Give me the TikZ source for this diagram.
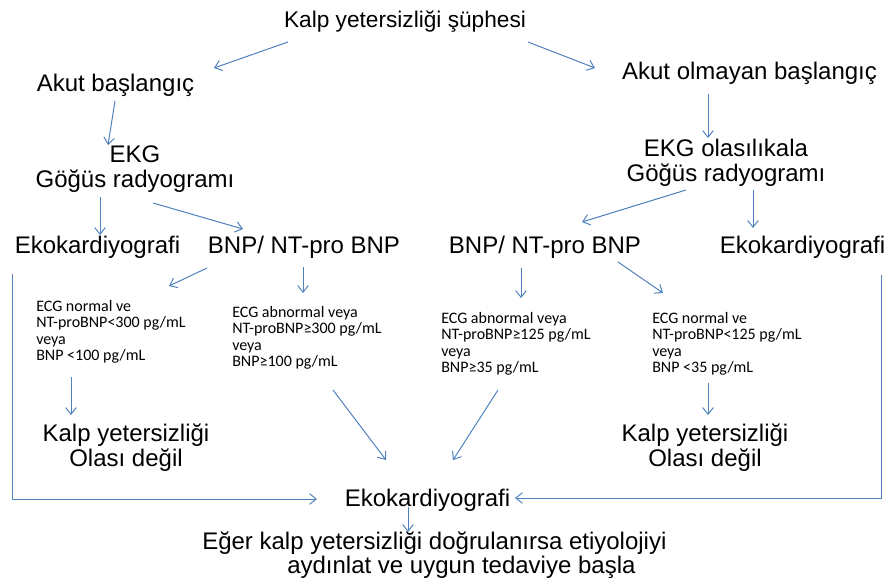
\documentclass[tikz,border=0pt]{standalone}
\usepackage{fontspec}
\setmainfont{Liberation Sans}
\newfontfamily\notefont{Carlito}
\usepackage{tikz}
\usetikzlibrary{arrows.meta}

\definecolor{flowblue}{RGB}{79,129,189}

\begin{document}
\begin{tikzpicture}[x=0.75pt,y=-0.75pt,
  lbl/.style={inner sep=0pt,anchor=base,align=center,font=\fontsize{18}{18.75}\selectfont},
  note/.style={inner sep=0pt,anchor=base west,align=left,font=\notefont\fontsize{12}{12.4}\selectfont},
  arr/.style={draw=flowblue,line width=0.75pt,-{Straight Barb[length=5pt,width=8pt]}}]

  \useasboundingbox (0,0) rectangle (889,581);

  % Top
  \node[lbl,font=\fontsize{17}{18}\selectfont] (root) at (405,28) {Kalp yetersizliği şüphesi};
  \node[lbl] (acute) at (115.5,92) {Akut başlangıç};
  \node[lbl] (nonacute) at (749.5,80) {Akut olmayan başlangıç};

  % Tests (base = last line)
  \node[lbl] (ekgL) at (135,188) {EKG\\Göğüs radyogramı};
  \node[lbl] (ekgR) at (726,182) {EKG olasılıkala\\Göğüs radyogramı};

  \node[lbl] (ekoL) at (97.5,253) {Ekokardiyografi};
  \node[lbl] (bnpL) at (304,253) {BNP/ NT-pro BNP};
  \node[lbl] (bnpR) at (545,253) {BNP/ NT-pro BNP};
  \node[lbl] (ekoR) at (802.5,253) {Ekokardiyografi};

  % Thresholds
  \node[note] (boxA) at (36,360.6) {ECG normal ve\\NT-proBNP<300 pg/mL\\veya\\BNP <100 pg/mL};
  \node[note] (boxB) at (232,366.6) {ECG abnormal veya\\NT-proBNP≥300 pg/mL\\veya\\BNP≥100 pg/mL};
  \node[note] (boxC) at (441,372.6) {ECG abnormal veya\\NT-proBNP≥125 pg/mL\\veya\\BNP≥35 pg/mL};
  \node[note] (boxD) at (652,372.6) {ECG normal ve\\NT-proBNP<125 pg/mL\\veya\\BNP <35 pg/mL};

  % Outcomes
  \node[lbl] (hfL) at (126,466) {Kalp yetersizliği\\Olası değil};
  \node[lbl] (hfR) at (705,466) {Kalp yetersizliği\\Olası değil};
  \node[lbl] (ekoB) at (427.5,506) {Ekokardiyografi};
  \node[lbl,anchor=base west,align=left,font=\fontsize{18}{18}\selectfont] (final) at (202,573)
    {Eğer kalp yetersizliği doğrulanırsa etiyolojiyi\\\hspace*{63.75pt}aydınlat ve uygun tedaviye başla};

  % Flows
  \draw[arr] ([shift={(-117,14)}]root.base) -- ([shift={(98.5,-24)}]acute.base);
  \draw[arr] ([shift={(123,14)}]root.base) -- ([shift={(-154.5,-12)}]nonacute.base);
  \draw[arr] ([shift={(-0.5,9)}]acute.base) -- ([shift={(-27,-43)}]ekgL.base);
  \draw[arr] ([shift={(-41.5,14)}]nonacute.base) -- ([shift={(-18,-44)}]ekgR.base);
  \draw[arr] ([shift={(-35,9)}]ekgL.base) -- ([shift={(2.5,-18)}]ekoL.base);
  \draw[arr] ([shift={(18,15)}]ekgL.base) -- ([shift={(-61,-24)}]bnpL.base);
  \draw[arr] ([shift={(-40,8)}]ekgR.base) -- ([shift={(37,-31)}]bnpR.base);
  \draw[arr] ([shift={(27,8)}]ekgR.base) -- ([shift={(-49.5,-25)}]ekoR.base);

  \draw[arr] ([shift={(-97,15)}]bnpL.base) -- ([shift={(133,-74.6)}]boxA.base west);
  \draw[arr] ([shift={(-1,14)}]bnpL.base) -- ([shift={(71,-73.6)}]boxB.base west);
  \draw[arr] ([shift={(-24,15)}]bnpR.base) -- ([shift={(80,-74.6)}]boxC.base west);
  \draw[arr] ([shift={(73,9)}]bnpR.base) -- ([shift={(11,-79.6)}]boxD.base west);

  \draw[arr] ([shift={(35,16.4)}]boxA.base west) -- ([shift={(-55,-51)}]hfL.base);
  \draw[arr] ([shift={(101,23.4)}]boxB.base west) -- ([shift={(-41.5,-46)}]ekoB.base);
  \draw[arr] ([shift={(57,17.4)}]boxC.base west) -- ([shift={(25.5,-46)}]ekoB.base);
  \draw[arr] ([shift={(56,10.4)}]boxD.base west) -- ([shift={(3,-51)}]hfR.base);

  \draw[arr] ([shift={(-85.5,21)}]ekoL.base) |- ([shift={(-110.5,-7)}]ekoB.base);
  \draw[arr] ([shift={(78.5,22)}]ekoR.base) |- ([shift={(87.5,-8)}]ekoB.base);
  \draw[arr] ([shift={(-19.5,1)}]ekoB.base) -- ([shift={(206,-41)}]final.base west);
\end{tikzpicture}
\end{document}
